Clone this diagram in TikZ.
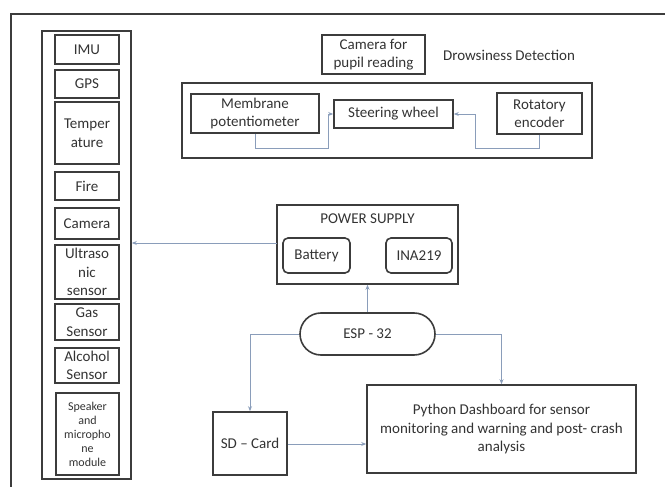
\documentclass[tikz,border=0pt]{standalone}
\usepackage{fontspec}
\setmainfont{Carlito}
\usetikzlibrary{arrows.meta}
\definecolor{boxcol}{HTML}{3C3C3C}
\definecolor{linkcol}{HTML}{8A9DBA}
\begin{document}
\begin{tikzpicture}[x=1pt,y=-1pt,
  every node/.style={font=\fontsize{15}{18.5}\selectfont, text=black!80, inner sep=0pt, align=center},
  box/.style={draw=boxcol, line width=1.6pt},
  rbox/.style={box, rounded corners=5pt},
  smalltext/.style={font=\fontsize{12}{14}\selectfont},
  link/.style={draw=linkcol, line width=0.9pt, -{Stealth[length=5pt,width=4pt]}},
  plain/.style={draw=linkcol, line width=0.9pt}]
\useasboundingbox (0,0) rectangle (665,487);
% outer frame
\draw[boxcol, line width=2.4pt] (665,14) -- (11,14) -- (11,487);
% left column
\node[box, minimum width=89pt, minimum height=448pt] (col) at (86.5,255) {};
\node[box, minimum width=64pt, minimum height=29pt] (imu) at (87,49.5) {IMU};
\node[box, minimum width=64pt, minimum height=28pt] (gps) at (87,84) {GPS};
\node[box, minimum width=64pt, minimum height=62pt] (temp) at (87,133) {Temper\\ature};
\node[box, minimum width=64pt, minimum height=28pt] (fire) at (87,186) {Fire};
\node[box, minimum width=64pt, minimum height=31pt] (cam) at (87,223.5) {Camera};
\node[box, minimum width=64pt, minimum height=54pt] (ultra) at (87,272) {Ultraso\\nic\\sensor};
\node[box, minimum width=64pt, minimum height=36pt] (gas) at (87,322) {Gas\\Sensor};
\node[box, minimum width=64pt, minimum height=35pt] (alc) at (87,365.5) {Alcohol\\Sensor};
\node[box, smalltext, minimum width=63pt, minimum height=82pt] (spk) at (87.5,434) {Speaker\\and\\micropho\\ne\\module};
% drowsiness
\node[box, minimum width=103pt, minimum height=39pt] (pupil) at (373.5,54.5) {Camera for\\pupil reading};
\node (drow) at (509,55) {Drowsiness Detection};
\node[box, minimum width=410pt, minimum height=75pt] (grp) at (387,120.5) {};
\node[box, minimum width=128pt, minimum height=39pt] (memb) at (255,113.5) {Membrane\\potentiometer};
\node[box, minimum width=119pt, minimum height=28pt] (steer) at (393.5,114) {Steering wheel};
\node[box, minimum width=85pt, minimum height=41pt] (rot) at (539.5,113.5) {Rotatory\\encoder};
\draw[link] (memb.south) -- (255,148) -- (328,148) |- (steer.west);
\draw[link] (rot.south) -- (539.5,148) -- (475,148) |- (steer.east);
% power supply
\node[box, minimum width=181pt, minimum height=79pt] (pwr) at (367.5,244.5) {};
\node (pwrt) at (367.5,219) {POWER SUPPLY};
\node[rbox, minimum width=67pt, minimum height=35pt] (bat) at (316.5,255.5) {Battery};
\node[rbox, minimum width=66pt, minimum height=35pt] (ina) at (419,255.5) {INA219};
\coordinate (pwl) at (277,243);
\draw[link] (pwl) -- (col.east |- pwl);
% esp
\node[box, rounded corners=21pt, minimum width=135pt, minimum height=42pt] (esp) at (367.5,334) {ESP - 32};
\draw[link] (esp.north) -- (pwr.south);
\node[box, minimum width=74pt, minimum height=63pt] (sd) at (250,443.5) {SD -- Card};
\node[box, minimum width=269pt, minimum height=88pt] (py) at (501.5,429) {Python Dashboard for sensor\\monitoring and warning and post- crash\\analysis};
\draw[link] (esp.west) -| (sd.north);
\draw[link] (esp.east) -| (py.north);
\draw[link] (sd.east |- 0,444) -- (py.west |- 0,444);
\end{tikzpicture}
\end{document}
